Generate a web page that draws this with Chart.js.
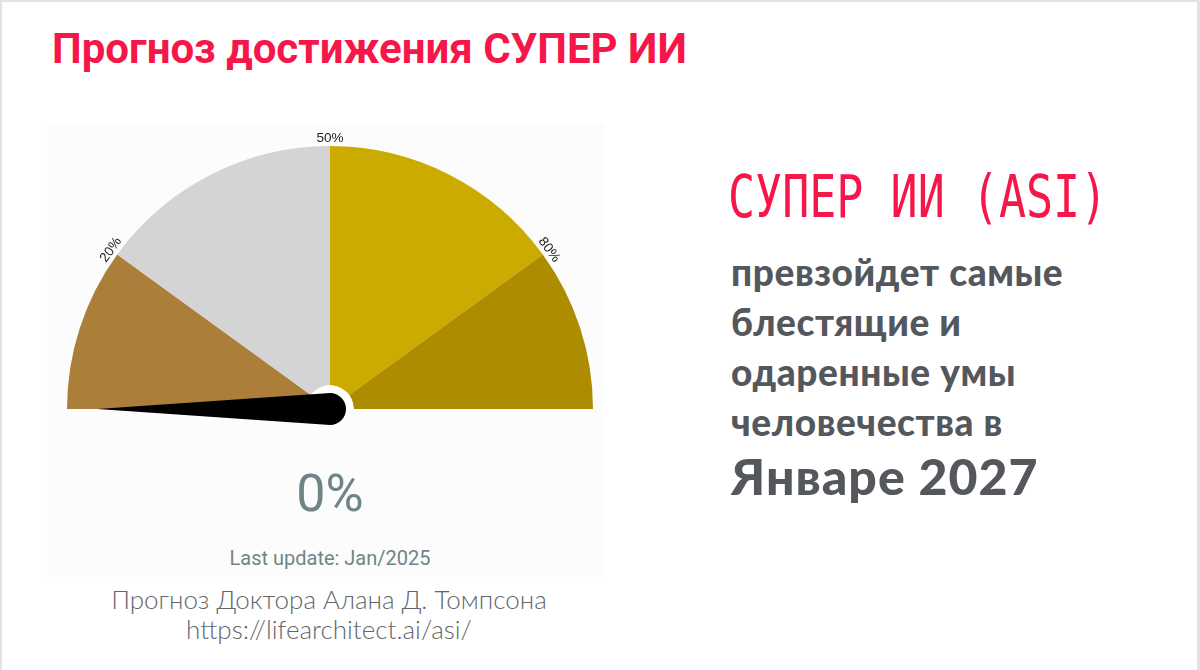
<!DOCTYPE html>
<html>
<head>
<meta charset="utf-8">
<script src="https://cdn.jsdelivr.net/npm/chart.js@4"></script>
<style>
  html, body { margin: 0; padding: 0; }
  body {
    width: 1200px; height: 670px; position: relative; overflow: hidden;
    background: #ffffff; font-family: Roboto, sans-serif;
  }
  .frame {
    position: absolute; left: 0; top: 0; width: 1200px; height: 670px;
    box-sizing: border-box;
    border-top: 2px solid #e2e2e7; border-left: 2px solid #e2e2e7; border-right: 3px solid #e2e2e7;
  }
  .title {
    position: absolute; left: 52px; top: 24px; margin: 0;
    font: 700 42px Roboto, sans-serif; color: #f5174a; white-space: nowrap;
  }
  .panel {
    position: absolute; left: 47px; top: 123px; width: 558px; height: 454px;
    background: #fcfcfc;
  }
  .gauge { position: absolute; left: 0; top: 0; width: 566px; height: 320px; }
  .value {
    position: absolute; left: 47px; width: 566px; top: 463px; text-align: center;
    font: 400 52px Roboto, sans-serif; color: #6f8585;
  }
  .update {
    position: absolute; left: 47px; width: 566px; top: 546px; text-align: center;
    font: 400 20px Roboto, sans-serif; color: #6f8585;
  }
  .credit {
    position: absolute; left: 0; width: 658px; text-align: center;
    font: 300 26px Lato, "Open Sans", sans-serif; color: #62666b; line-height: 30px;
    top: 584px;
  }
  .asi {
    position: absolute; left: 728px; top: 162px; white-space: nowrap;
    font: 400 45px "DejaVu Sans Mono", monospace; color: #f5174a;
    transform: scaleY(1.3); transform-origin: 0 0;
  }
  .claim {
    position: absolute; left: 731px; top: 247px; margin: 0;
    font: 900 37px Lato, sans-serif; color: #54585d; line-height: 50px;
    letter-spacing: 0.6px;
  }
  .date {
    position: absolute; left: 731px; top: 446px; white-space: nowrap;
    font: 900 50px Lato, sans-serif; color: #54585d; letter-spacing: 1px;
  }
</style>
</head>
<body>
<div class="frame"></div>
<h1 class="title">Прогноз достижения СУПЕР ИИ</h1>

<div class="panel">
  <div class="gauge"><canvas id="gaugeChart"></canvas></div>
</div>
<div class="value" id="gaugeValue"></div>
<div class="update">Last update: Jan/2025</div>
<div class="credit">Прогноз Доктора Алана Д. Томпсона<br>https://lifearchitect.ai/asi/</div>

<div class="asi">СУПЕР ИИ (ASI)</div>
<p class="claim">превзойдет самые<br>блестящие и<br>одаренные умы<br>человечества в</p>
<div class="date">Январе 2027</div>

<script>
// Gauge zones (percent of the way to ASI)
const ZONES       = ['0–20%', '20–50%', '50–80%', '80–100%'];
const ZONE_SIZES  = [20, 30, 30, 20];
const TICK_VALUES = [20, 50, 80];
const TICK_LABELS = ['20%', '50%', '80%'];
const NEEDLE_VALUE = [0];

const COLORS = {
  bronze: '#ab7e3a',
  grey:   '#d4d4d4',
  gold:   '#cbab00',
  olive:  '#ae8c00',
  tick:   '#222222',
  needle: '#000000',
};

const TOTAL = ZONE_SIZES.reduce((a, b) => a + b, 0);

// angle on the canvas for a gauge value (left = 0, right = TOTAL)
function valueAngle(v) {
  return Math.PI + (v / TOTAL) * Math.PI;
}

// tick labels written along the outer rim
const rimLabels = {
  id: 'rimLabels',
  afterDatasetsDraw(chart) {
    const arc = chart.getDatasetMeta(0).data[0];
    if (!arc) return;
    const { x, y, outerRadius } = arc.getProps(['x', 'y', 'outerRadius'], true);
    const ctx = chart.ctx;
    ctx.save();
    ctx.font = "13.5px 'Liberation Sans', Arial, sans-serif";
    ctx.fillStyle = COLORS.tick;
    ctx.textAlign = 'center';
    ctx.textBaseline = 'bottom';
    TICK_VALUES.forEach((v, i) => {
      const a = valueAngle(v);
      ctx.save();
      ctx.translate(x + (outerRadius + 1) * Math.cos(a), y + (outerRadius + 1) * Math.sin(a));
      ctx.rotate(a + Math.PI / 2);
      ctx.fillText(TICK_LABELS[i], 0, 0);
      ctx.restore();
    });
    ctx.restore();
  }
};

// white hub + tapered needle with round head
const needle = {
  id: 'needle',
  afterDatasetsDraw(chart) {
    const arc = chart.getDatasetMeta(0).data[0];
    if (!arc) return;
    const { x, y, outerRadius, innerRadius } = arc.getProps(['x', 'y', 'outerRadius', 'innerRadius'], true);
    const ctx = chart.ctx;
    const a = valueAngle(NEEDLE_VALUE[0]);
    const len = outerRadius * 0.885;
    const head = 16;
    ctx.save();
    ctx.fillStyle = '#ffffff';
    ctx.beginPath();
    ctx.arc(x, y, innerRadius, Math.PI, Math.PI * 2);
    ctx.fill();
    ctx.fillStyle = COLORS.needle;
    ctx.beginPath();
    ctx.moveTo(x + len * Math.cos(a), y + len * Math.sin(a));
    ctx.lineTo(x + head * Math.cos(a + Math.PI / 2), y + head * Math.sin(a + Math.PI / 2));
    ctx.arc(x, y, head, a + Math.PI / 2, a + Math.PI * 1.5, false);
    ctx.closePath();
    ctx.fill();
    ctx.restore();
  }
};

document.getElementById('gaugeValue').textContent = NEEDLE_VALUE[0] + '%';

new Chart(document.getElementById('gaugeChart'), {
  type: 'doughnut',
  data: {
    labels: ZONES,
    datasets: [{
      data: ZONE_SIZES,
      backgroundColor: [COLORS.bronze, COLORS.grey, COLORS.gold, COLORS.olive],
      borderWidth: 0,
      hoverOffset: 0,
    }]
  },
  options: {
    responsive: true,
    maintainAspectRatio: false,
    animation: false,
    rotation: -90,
    circumference: 180,
    cutout: '9%',
    layout: { padding: { left: 20, right: 20, top: 23, bottom: 34 } },
    plugins: {
      legend: { display: false },
      tooltip: { enabled: false },
    }
  },
  plugins: [rimLabels, needle]
});
</script>
</body>
</html>
